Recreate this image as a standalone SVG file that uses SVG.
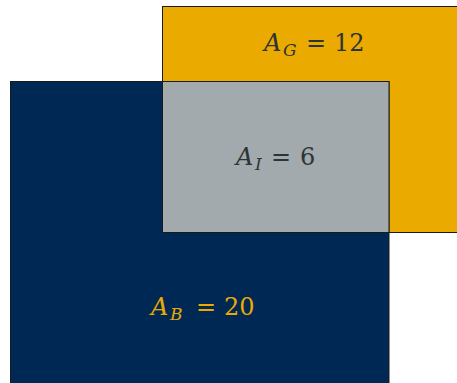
<svg xmlns="http://www.w3.org/2000/svg" width="457" height="383" viewBox="0 0 457 383">
<style>
.r{stroke:#1a1a1a;stroke-width:1}
text{font-family:'DejaVu Serif','Liberation Serif',serif;font-size:24px}
.i{font-style:italic}
.s{font-size:17px;font-style:italic}
</style>
<rect width="457" height="383" fill="#ffffff"/>
<g id="gold">
<rect class="r" x="162.5" y="6.5" width="300" height="226" fill="#EAAA00"/>
</g>
<g id="blue">
<rect class="r" x="10.5" y="81.5" width="378.5" height="310" fill="#002855"/>
</g>
<g id="intersection">
<rect class="r" x="162.5" y="81.5" width="226.5" height="151" fill="#A2AAAD"/>
</g>
<g id="labels">
<text y="51" fill="#2d3436"><tspan class="i" x="264">A</tspan><tspan class="s" x="283" dy="5">G</tspan><tspan x="306" dy="-5">=</tspan><tspan x="334">12</tspan></text>
<text y="165" fill="#2d3436"><tspan class="i" x="236">A</tspan><tspan class="s" x="255" dy="5">I</tspan><tspan x="271" dy="-5">=</tspan><tspan x="300">6</tspan></text>
<text y="315" fill="#EAAA00"><tspan class="i" x="151">A</tspan><tspan class="s" x="170" dy="5">B</tspan><tspan x="196" dy="-5">=</tspan><tspan x="224">20</tspan></text>
</g>
</svg>
